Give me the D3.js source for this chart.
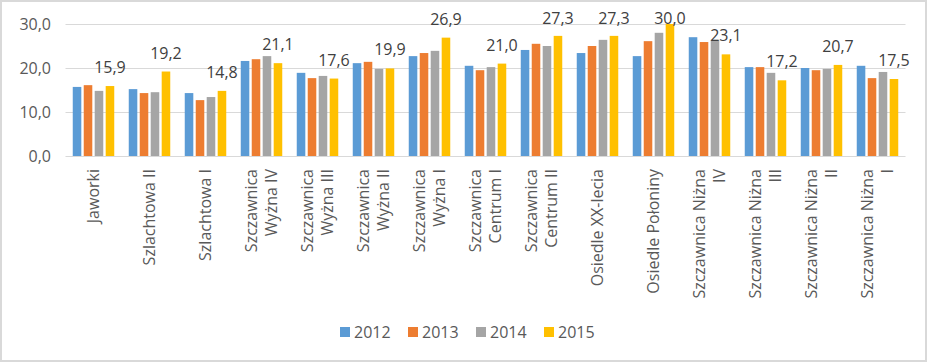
<!DOCTYPE html>
<html>
<head>
<meta charset="utf-8">
<script src="https://cdn.jsdelivr.net/npm/d3@7"></script>
<style>
  body { margin: 0; background: #fff; }
  text { font-family: "Open Sans", sans-serif; fill: #595959; }
</style>
</head>
<body>
<div id="chart"></div>
<script>
// categories (each label line kept separate)
const categories = [
    ["Jaworki"],
    ["Szlachtowa II"],
    ["Szlachtowa I"],
    ["Szczawnica", "Wyżna IV"],
    ["Szczawnica", "Wyżna III"],
    ["Szczawnica", "Wyżna II"],
    ["Szczawnica", "Wyżna I"],
    ["Szczawnica", "Centrum I"],
    ["Szczawnica", "Centrum II"],
    ["Osiedle XX-lecia"],
    ["Osiedle Połoniny"],
    ["Szczawnica Niżna", "IV"],
    ["Szczawnica Niżna", "III"],
    ["Szczawnica Niżna", "II"],
    ["Szczawnica Niżna", "I"]
];
const years = ["2012", "2013", "2014", "2015"];
const colors = ["#5b9bd5", "#ed7d31", "#a5a5a5", "#ffc000"];

const v2012 = [15.7, 15.2, 14.3, 21.6, 18.9, 21.1, 22.7, 20.5, 24.1, 23.4, 22.7, 27.0, 20.2, 20.0, 20.5];
const v2013 = [16.1, 14.3, 12.7, 22.0, 17.7, 21.4, 23.4, 19.5, 25.5, 25.0, 26.1, 25.9, 20.2, 19.5, 17.7];
const v2014 = [14.8, 14.5, 13.4, 22.7, 18.2, 19.8, 23.9, 20.2, 25.0, 26.4, 28.0, 26.4, 18.9, 19.8, 19.1];
const v2015 = [15.9, 19.2, 14.8, 21.1, 17.6, 19.9, 26.9, 21.0, 27.3, 27.3, 30.0, 23.1, 17.2, 20.7, 17.5];
const series = [v2012, v2013, v2014, v2015];

const yTicks = [0, 10, 20, 30];

const width = 929, height = 363;
const margin = { top: 24, right: 23.5, bottom: 207, left: 65.5 };

const svg = d3.select("#chart").append("svg")
    .attr("width", width)
    .attr("height", height);

// outer border
svg.append("rect")
    .attr("x", 1).attr("y", 1)
    .attr("width", width - 4).attr("height", height - 3)
    .attr("fill", "#fff")
    .attr("stroke", "#d9d9d9")
    .attr("stroke-width", 2);

const x = d3.scaleBand()
    .domain(d3.range(categories.length))
    .range([margin.left, width - margin.right]);

const xInner = d3.scaleBand()
    .domain(years)
    .range([0, 41.5])
    .paddingInner(0.22);

const y = d3.scaleLinear()
    .domain([0, 30])
    .range([height - margin.bottom, margin.top]);

// gridlines
svg.append("g")
    .selectAll("line")
    .data(yTicks)
    .join("line")
    .attr("x1", margin.left)
    .attr("x2", width - margin.right)
    .attr("y1", d => Math.round(y(d)) + 0.5)
    .attr("y2", d => Math.round(y(d)) + 0.5)
    .attr("stroke", "#d9d9d9")
    .attr("stroke-width", 1);

// y axis labels
svg.append("g")
    .selectAll("text")
    .data(yTicks)
    .join("text")
    .attr("x", 51)
    .attr("y", d => y(d))
    .attr("dy", "0.35em")
    .attr("text-anchor", "end")
    .style("font-size", "16px")
    .text(d => d3.format(".1f")(d).replace(".", ","));

// bars
const groups = svg.append("g")
    .selectAll("g")
    .data(categories)
    .join("g")
    .attr("transform", (d, i) => `translate(${x(i) + (x.bandwidth() - 41.5) / 2},0)`);

groups.selectAll("rect")
    .data((d, i) => series.map((s, k) => ({ year: years[k], value: s[i], k })))
    .join("rect")
    .attr("x", d => xInner(d.year))
    .attr("y", d => y(d.value))
    .attr("width", xInner.bandwidth())
    .attr("height", d => y(0) - y(d.value))
    .attr("fill", d => colors[d.k]);

// data labels on 2015 bars (kept inside the chart area like Excel does)
groups.append("text")
    .attr("x", xInner("2015") + xInner.bandwidth() / 2)
    .attr("y", (d, i) => Math.max(y(v2015[i]) - 13, margin.top))
    .attr("text-anchor", "middle")
    .style("font-size", "16px")
    .style("fill", "#404040")
    .text((d, i) => d3.format(".1f")(v2015[i]).replace(".", ","));

// category labels, rotated
const labelTop = y(0) + 13;
const cat = svg.append("g")
    .selectAll("text")
    .data(categories)
    .join("text")
    .attr("transform", (d, i) => `translate(${x(i) + x.bandwidth() / 2},${labelTop}) rotate(-90)`)
    .attr("text-anchor", "end")
    .style("font-size", "16px");

cat.selectAll("tspan")
    .data(d => d)
    .join("tspan")
    .attr("x", 0)
    .attr("y", (d, j, nodes) => (j - (nodes.length - 1) / 2) * 20)
    .attr("dy", "0.35em")
    .text(d => d);

// legend
const legend = svg.append("g")
    .selectAll("g")
    .data(years)
    .join("g")
    .attr("transform", (d, i) => `translate(${340 + i * 68},332)`);

legend.append("rect")
    .attr("x", 0).attr("y", -5)
    .attr("width", 10).attr("height", 10)
    .attr("fill", (d, i) => colors[i]);

legend.append("text")
    .attr("x", 14)
    .attr("dy", "0.35em")
    .style("font-size", "16px")
    .text(d => d);
</script>
</body>
</html>
